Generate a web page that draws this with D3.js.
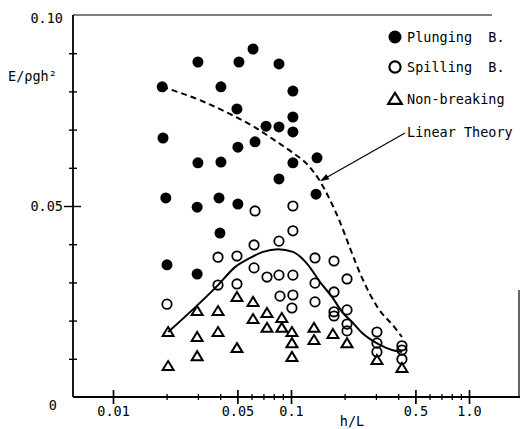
<!DOCTYPE html>
<html>
<head>
<meta charset="utf-8">
<script src="https://cdn.jsdelivr.net/npm/d3@7"></script>
<style>
  body { margin: 0; background: #fff; }
  text { font-family: "DejaVu Sans Mono", monospace; font-size: 13.5px; fill: #000; }
</style>
</head>
<body>
<svg id="chart" width="521" height="429"></svg>
<script>
// Wave energy E/(rho g h^2) against relative depth h/L

// Plunging breakers: [h/L, E/rho g h^2]
const plunging = [
  [0.0189, 0.0812], [0.0191, 0.0678], [0.0198, 0.0521], [0.0201, 0.0346],
  [0.0300, 0.0877], [0.0300, 0.0613], [0.0297, 0.0497], [0.0297, 0.0322],
  [0.0404, 0.0812], [0.0404, 0.0615], [0.0394, 0.0521], [0.0399, 0.0429],
  [0.0510, 0.0877], [0.0497, 0.0754], [0.0503, 0.0654], [0.0503, 0.0505],
  [0.0612, 0.0911], [0.0628, 0.0668],
  [0.0724, 0.0709],
  [0.0856, 0.0872], [0.0856, 0.0707], [0.0856, 0.0571],
  [0.1025, 0.0801], [0.1025, 0.0733], [0.1025, 0.0694], [0.1025, 0.0613],
  [0.1400, 0.0626], [0.1382, 0.0531]
];

// Spilling breakers
const spilling = [
  [0.0201, 0.0243],
  [0.0389, 0.0366], [0.0389, 0.0293],
  [0.0497, 0.0369], [0.0497, 0.0296],
  [0.0628, 0.0487], [0.0620, 0.0398], [0.0620, 0.0338],
  [0.0733, 0.0314],
  [0.0856, 0.0408], [0.0856, 0.0319], [0.0867, 0.0264],
  [0.1025, 0.0500], [0.1025, 0.0435], [0.1025, 0.0319], [0.1025, 0.0267], [0.1012, 0.0233],
  [0.1364, 0.0364], [0.1364, 0.0298], [0.1364, 0.0249],
  [0.1744, 0.0356], [0.1744, 0.0275], [0.1744, 0.0223], [0.1744, 0.0212],
  [0.2064, 0.0309], [0.2064, 0.0228], [0.2064, 0.0191], [0.2064, 0.0173],
  [0.304, 0.0170], [0.304, 0.0141], [0.304, 0.0118],
  [0.420, 0.0134], [0.420, 0.0123], [0.420, 0.0099]
];

// Non-breaking waves
const nonBreaking = [
  [0.0204, 0.0170], [0.0204, 0.0081],
  [0.0297, 0.0225], [0.0297, 0.0157], [0.0297, 0.0107],
  [0.0389, 0.0225], [0.0389, 0.0170],
  [0.0497, 0.0262], [0.0497, 0.0128],
  [0.0612, 0.0249], [0.0612, 0.0204],
  [0.0733, 0.0220], [0.0733, 0.0181],
  [0.0888, 0.0207], [0.0888, 0.0181],
  [0.1012, 0.0170], [0.1012, 0.0141], [0.1012, 0.0105],
  [0.1346, 0.0181], [0.1346, 0.0149],
  [0.172, 0.0165],
  [0.2064, 0.0141],
  [0.304, 0.0097],
  [0.420, 0.0076]
];

// Linear theory (dashed)
const linearTheory = [
  [0.0189, 0.0812], [0.0308, 0.0777], [0.0454, 0.0741], [0.0612, 0.0709],
  [0.0792, 0.0675], [0.1026, 0.0639], [0.1246, 0.0607], [0.1455, 0.0565],
  [0.1656, 0.0516], [0.1885, 0.0458], [0.2145, 0.0390], [0.2505, 0.0312],
  [0.3082, 0.0233], [0.384, 0.0181], [0.420, 0.0157]
];

// Fitted curve through the non-breaking / spilling limit (solid)
const fitCurve = [
  [0.0204, 0.0170], [0.0389, 0.0293], [0.0485, 0.0340], [0.0589, 0.0364],
  [0.0696, 0.0380], [0.0845, 0.0387], [0.1025, 0.0380], [0.1246, 0.0346],
  [0.1455, 0.0301], [0.170, 0.0262], [0.1934, 0.0223], [0.2230, 0.0194],
  [0.2505, 0.0168], [0.3082, 0.0139], [0.3693, 0.0123], [0.420, 0.0118]
];

// Point on the linear-theory curve that the annotation arrow points to
const arrowTarget = [0.1455, 0.0565];

// Axis ticks
const xMajor = [0.01, 0.05, 0.1, 0.5, 1];
const xMajorLabels = ["0.01", "0.05", "0.1", "0.5", "1.0"];
const xMinor = [0.02, 0.03, 0.04, 0.06, 0.07, 0.08, 0.09, 0.2, 0.3, 0.4, 0.6, 0.7, 0.8, 0.9];
const yTicks = [0.01, 0.02, 0.03, 0.04, 0.05, 0.06, 0.07, 0.08, 0.09];
const yLabels = [[0.1, "0.10"], [0.05, "0.05"]];

const legendItems = ["Plunging\u00a0\u00a0B.", "Spilling\u00a0\u00a0B.", "Non-breaking"];

const svg = d3.select("#chart");
svg.append("rect").attr("width", 521).attr("height", 429).attr("fill", "#fff");

const x = d3.scaleLog().domain([0.01, 1]).range([113, 469]);
const y = d3.scaleLinear().domain([0, 0.1]).range([397, 15]);
const plotL = 73, plotR = 520, plotB = y(0), plotT = y(0.1);

// frame
const frame = svg.append("g").attr("stroke", "#000").attr("fill", "none");
frame.append("line").attr("x1", plotL).attr("x2", plotL).attr("y1", plotT).attr("y2", plotB).attr("stroke-width", 1.8);
frame.append("line").attr("x1", plotL).attr("x2", plotR).attr("y1", plotB).attr("y2", plotB).attr("stroke-width", 1.8);
frame.append("line").attr("x1", plotL).attr("x2", 492).attr("y1", plotT).attr("y2", plotT).attr("stroke-width", 1.2);
frame.append("line").attr("x1", plotR - 1).attr("x2", plotR - 1).attr("y1", 290).attr("y2", plotB).attr("stroke-width", 1.2);

// x axis
const isMajor = d => xMajor.includes(d);
const gx = svg.append("g").attr("transform", `translate(0,${plotB})`)
  .call(d3.axisBottom(x)
    .tickValues(xMajor.concat(xMinor))
    .tickSizeOuter(0)
    .tickFormat(d => { const i = xMajor.indexOf(d); return i < 0 ? "" : xMajorLabels[i]; }));
gx.select(".domain").remove();
gx.selectAll(".tick line")
  .attr("y1", d => isMajor(d) ? -7 : -3)
  .attr("y2", d => isMajor(d) ? 7 : 3)
  .attr("stroke", "#000")
  .attr("stroke-width", d => isMajor(d) ? 1.7 : 1.3);
gx.selectAll(".tick text").attr("y", 9);

// y axis
const gy = svg.append("g").attr("transform", `translate(${plotL},0)`)
  .call(d3.axisLeft(y).tickValues(yTicks).tickSizeOuter(0).tickFormat(""));
gy.select(".domain").remove();
gy.selectAll(".tick line")
  .attr("x1", d => d === 0.05 ? -9 : -4)
  .attr("x2", d => d === 0.05 ? 8 : 4)
  .attr("stroke", "#000")
  .attr("stroke-width", 1.4);

svg.selectAll("text.ylab").data(yLabels).join("text")
  .attr("class", "ylab")
  .attr("x", 63)
  .attr("y", d => y(d[0]) + (d[0] === 0.1 ? 3 : 0))
  .attr("dy", "0.35em")
  .attr("text-anchor", "end")
  .text(d => d[1]);
svg.append("text").attr("x", 57).attr("y", plotB + 8).attr("dy", "0.35em")
  .attr("text-anchor", "end").text("0");

// axis titles
svg.append("text").attr("x", 8).attr("y", 76).attr("dy", "0.35em").text("E/ρgh²");
svg.append("text").attr("x", 352).attr("y", 426)
  .attr("text-anchor", "middle").text("h/L");

// curves
const line = d3.line().x(d => x(d[0])).y(d => y(d[1])).curve(d3.curveMonotoneX);
svg.append("path").datum(linearTheory).attr("d", line)
  .attr("fill", "none").attr("stroke", "#000").attr("stroke-width", 2)
  .attr("stroke-dasharray", "6,4");
svg.append("path").datum(fitCurve).attr("d", line)
  .attr("fill", "none").attr("stroke", "#000").attr("stroke-width", 2);

// markers
const tri = s => `M0,${-s}L${s * 1.1},${s * 0.8}L${-s * 1.1},${s * 0.8}Z`;

svg.append("g").selectAll("circle").data(plunging).join("circle")
  .attr("cx", d => x(d[0])).attr("cy", d => y(d[1])).attr("r", 5.5).attr("fill", "#000");
svg.append("g").selectAll("circle").data(spilling).join("circle")
  .attr("cx", d => x(d[0])).attr("cy", d => y(d[1])).attr("r", 4.7)
  .attr("fill", "none").attr("stroke", "#000").attr("stroke-width", 1.8);
svg.append("g").selectAll("path").data(nonBreaking).join("path")
  .attr("transform", d => `translate(${x(d[0])},${y(d[1])})`)
  .attr("d", tri(5))
  .attr("fill", "none").attr("stroke", "#000").attr("stroke-width", 2).attr("stroke-linejoin", "miter");

// legend
const lg = svg.append("g").attr("transform", "translate(395,0)");
const rowY = [37, 67, 99];
lg.append("circle").attr("cx", 0).attr("cy", rowY[0]).attr("r", 6.5).attr("fill", "#000");
lg.append("circle").attr("cx", 0).attr("cy", rowY[1]).attr("r", 5.6)
  .attr("fill", "none").attr("stroke", "#000").attr("stroke-width", 2.2);
lg.append("path").attr("transform", `translate(0,${rowY[2]})`).attr("d", tri(6.2))
  .attr("fill", "none").attr("stroke", "#000").attr("stroke-width", 2.2);
lg.selectAll("text").data(legendItems).join("text")
  .attr("x", 12).attr("y", (d, i) => rowY[i]).attr("dy", "0.35em").text(d => d);

// linear theory annotation with arrow
const labelX = 407, labelY = 132;
svg.append("text").attr("x", labelX).attr("y", labelY).attr("dy", "0.35em").text("Linear Theory");
const tx = x(arrowTarget[0]), ty = y(arrowTarget[1]);
const sx = labelX - 2, sy = labelY + 1;
const ang = Math.atan2(ty - sy, tx - sx);
svg.append("line").attr("x1", sx).attr("y1", sy).attr("x2", tx - 6 * Math.cos(ang)).attr("y2", ty - 6 * Math.sin(ang))
  .attr("stroke", "#000").attr("stroke-width", 1.2);
const headL = 9, headW = 3;
const bx = tx - headL * Math.cos(ang), by = ty - headL * Math.sin(ang);
svg.append("path")
  .attr("d", `M${tx},${ty}L${bx + headW * Math.sin(ang)},${by - headW * Math.cos(ang)}L${bx - headW * Math.sin(ang)},${by + headW * Math.cos(ang)}Z`)
  .attr("fill", "#000");
</script>
</body>
</html>
